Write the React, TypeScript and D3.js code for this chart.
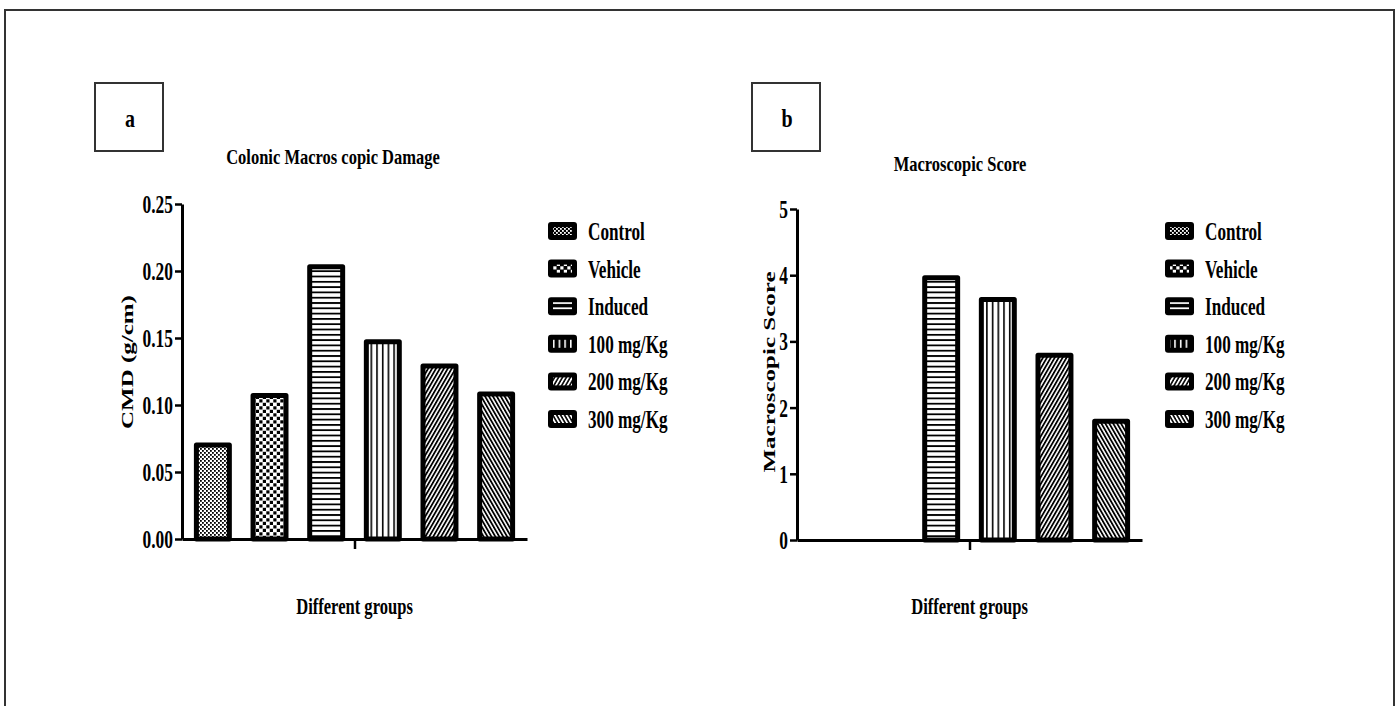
import React, { useEffect, useRef } from 'react';
import * as d3 from 'd3';

// group names and values
const groups = ['Control', 'Vehicle', 'Induced', '100 mg/Kg', '200 mg/Kg', '300 mg/Kg'];
const cmdValues = [0.072, 0.109, 0.205, 0.149, 0.131, 0.11];
const scoreValues = [0, 0, 4.0, 3.67, 2.83, 1.83];
const cmdTicks = [0, 0.05, 0.1, 0.15, 0.2, 0.25];
const scoreTicks = [0, 1, 2, 3, 4, 5];
const patternIds = ['control', 'vehicle', 'induced', 'd100', 'd200', 'd300'];

const width = 1396;
const height = 706;
const font = '"Liberation Serif", "Times New Roman", serif';
const squeeze = 0.67;

const panels = [
  {
    letter: 'a', values: cmdValues, ticks: cmdTicks, fmt: d3.format('.2f'),
    title: 'Colonic Macros copic Damage', yLabel: 'CMD (g/cm)',
    left: 182, right: 527, top: 204, bottom: 539,
    boxX: 95, titleX: 333, titleY: 164, labelX: 133, labelY: 362, legendX: 548,
  },
  {
    letter: 'b', values: scoreValues, ticks: scoreTicks, fmt: d3.format('d'),
    title: 'Macroscopic Score', yLabel: 'Macroscopic Score',
    left: 797, right: 1142, top: 209, bottom: 540,
    boxX: 752, titleX: 960, titleY: 171, labelX: 775, labelY: 372, legendX: 1165,
  },
];

const addPatterns = (defs, fg, bg, suffix) => {
  const make = (id, w, h, rot = 0) =>
    defs
      .append('pattern')
      .attr('id', id + suffix)
      .attr('patternUnits', 'userSpaceOnUse')
      .attr('width', w)
      .attr('height', h)
      .attr('patternTransform', rot ? 'rotate(' + rot + ')' : null);

  let p = make('control', 4, 4);
  p.append('rect').attr('width', 4).attr('height', 4).attr('fill', bg);
  p.append('rect').attr('width', 1.8).attr('height', 1.8).attr('fill', fg);
  p.append('rect').attr('x', 2).attr('y', 2).attr('width', 1.8).attr('height', 1.8).attr('fill', fg);

  p = make('vehicle', 7, 7);
  p.append('rect').attr('width', 7).attr('height', 7).attr('fill', bg);
  p.append('rect').attr('x', 0.3).attr('y', 0.3).attr('width', 3.2).attr('height', 3.2).attr('fill', fg);
  p.append('rect').attr('x', 3.8).attr('y', 3.8).attr('width', 3.2).attr('height', 3.2).attr('fill', fg);

  p = make('induced', 6, 5.3);
  p.append('rect').attr('width', 6).attr('height', 5.3).attr('fill', bg);
  p.append('rect').attr('width', 6).attr('height', 1.8).attr('fill', fg);

  p = make('d100', 5.7, 6);
  p.append('rect').attr('width', 5.7).attr('height', 6).attr('fill', bg);
  p.append('rect').attr('width', 1.6).attr('height', 6).attr('fill', fg);

  p = make('d200', 3.4, 6, 30);
  p.append('rect').attr('width', 3.4).attr('height', 6).attr('fill', bg);
  p.append('rect').attr('width', 1.8).attr('height', 6).attr('fill', fg);

  p = make('d300', 3.4, 6, -30);
  p.append('rect').attr('width', 3.4).attr('height', 6).attr('fill', bg);
  p.append('rect').attr('width', 1.8).attr('height', 6).attr('fill', fg);
};

const addText = (g, str, x, y, size, anchor, sx = squeeze, rotate = false) =>
  g
    .append('text')
    .attr(
      'transform',
      rotate
        ? 'translate(' + x + ',' + y + ') rotate(-90) scale(1,' + sx + ')'
        : 'translate(' + x + ',' + y + ') scale(' + sx + ',1)'
    )
    .attr('text-anchor', anchor)
    .attr('font-family', font)
    .attr('font-weight', 'bold')
    .attr('font-size', size)
    .attr('fill', '#000')
    .text(str);

export default function App() {
  const ref = useRef(null);

  useEffect(() => {
    const svg = d3.select(ref.current);
    svg.selectAll('*').remove();

    const defs = svg.append('defs');
    addPatterns(defs, '#000', '#fff', '');
    addPatterns(defs, '#fff', '#000', '-inv');

    // outer frame
    svg
      .append('rect')
      .attr('x', 5)
      .attr('y', 10)
      .attr('width', 1389)
      .attr('height', 730)
      .attr('fill', 'none')
      .attr('stroke', '#333')
      .attr('stroke-width', 2);

    panels.forEach((pn) => {
      const g = svg.append('g');

      const xScale = d3
        .scaleBand()
        .domain(groups)
        .range([pn.left, pn.right])
        .paddingInner(0.33)
        .paddingOuter(0.21);

      const yScale = d3
        .scaleLinear()
        .domain([0, d3.max(pn.ticks)])
        .range([pn.bottom, pn.top]);

      // panel letter box
      g.append('rect')
        .attr('x', pn.boxX)
        .attr('y', 83)
        .attr('width', 68)
        .attr('height', 68)
        .attr('fill', 'none')
        .attr('stroke', '#333')
        .attr('stroke-width', 2);
      addText(g, pn.letter, pn.boxX + 35, 127, 25, 'middle', 0.8);

      addText(g, pn.title, pn.titleX, pn.titleY, 22, 'middle', 0.75);

      // bars
      g.selectAll('rect.bar')
        .data(pn.values)
        .enter()
        .append('rect')
        .attr('class', 'bar')
        .attr('x', (d, i) => xScale(groups[i]) + 2.5)
        .attr('width', xScale.bandwidth() - 5)
        .attr('y', (d) => yScale(d) + 2.5)
        .attr('height', (d) => Math.max(0, yScale(0) - yScale(d) - 2.5))
        .attr('fill', (d, i) => 'url(#' + patternIds[i] + ')')
        .attr('stroke', '#000')
        .attr('stroke-width', 5)
        .attr('stroke-linejoin', 'round');

      // y axis
      const yAxis = d3.axisLeft(yScale).tickValues(pn.ticks).tickSize(7).tickSizeOuter(0).tickFormat(() => '');
      const ya = g.append('g').attr('transform', 'translate(' + pn.left + ',0)').call(yAxis);
      ya.select('.domain').attr('stroke', '#000').attr('stroke-width', 3);
      ya.selectAll('.tick line').attr('stroke', '#000').attr('stroke-width', 2.5);
      pn.ticks.forEach((t) => {
        addText(g, pn.fmt(t), pn.left - 9, yScale(t) + 9, 26, 'end');
      });

      // x axis with one centre tick
      const mid = (pn.left + pn.right) / 2;
      const xAxis = d3
        .axisBottom(d3.scaleLinear().domain([0, 1]).range([pn.left, pn.right]))
        .tickValues([0.5])
        .tickSize(10)
        .tickSizeOuter(0)
        .tickFormat(() => '');
      const xa = g.append('g').attr('transform', 'translate(0,' + pn.bottom + ')').call(xAxis);
      xa.select('.domain').attr('stroke', '#000').attr('stroke-width', 3);
      xa.selectAll('.tick line').attr('stroke', '#000').attr('stroke-width', 2.5);

      addText(g, 'Different groups', mid, 614, 23, 'middle', 0.72);
      addText(g, pn.yLabel, pn.labelX, pn.labelY, 25, 'middle', squeeze, true);

      // legend
      groups.forEach((name, i) => {
        const cy = 231 + i * 37.6;
        g.append('rect')
          .attr('x', pn.legendX)
          .attr('y', cy - 9)
          .attr('width', 29)
          .attr('height', 18)
          .attr('rx', 3)
          .attr('fill', '#000');
        g.append('rect')
          .attr('x', pn.legendX + 5)
          .attr('y', cy - 4)
          .attr('width', 19)
          .attr('height', 8)
          .attr('fill', 'url(#' + patternIds[i] + '-inv)');
        addText(g, name, pn.legendX + 40, cy + 9, 26, 'start', 0.66);
      });
    });
  }, []);

  return (
    <svg
      ref={ref}
      width={width}
      height={height}
      style={{ position: 'absolute', left: 0, top: 0, background: '#fff' }}
    />
  );
}
